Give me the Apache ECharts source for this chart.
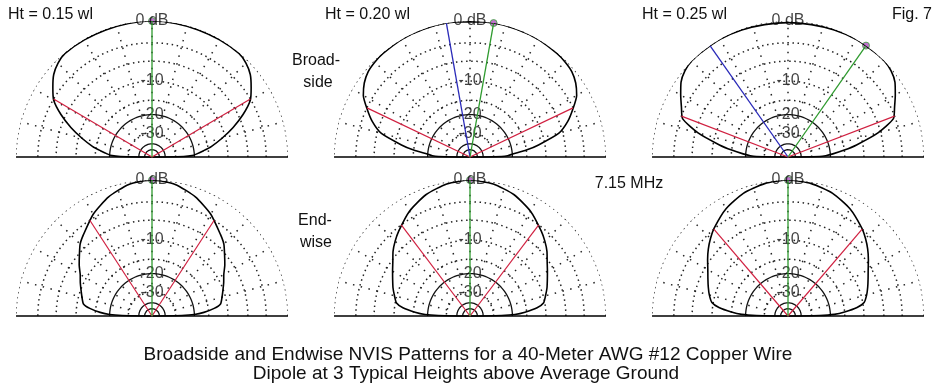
<!DOCTYPE html>
<html><head><meta charset="utf-8">
<script src="https://cdn.jsdelivr.net/npm/echarts@6/dist/echarts.min.js"></script>
<style>html,body{margin:0;padding:0;background:#fff}#c{width:937px;height:389px}</style>
</head><body><div id="c"></div>
<script>
// elevation angles (deg) at which pattern gain (dB) was read
const angles = [0, 1, 2, 4, 7, 10, 15, 20, 25, 30, 35, 40, 45, 50, 60, 70, 80, 90, 100, 110, 120, 130, 135, 140, 145, 150, 155, 160, 165, 170, 173, 176, 178, 179, 180];
// pattern gain in dB relative to max
const broad015 = [-99, -25, -21, -19, -16.5, -14, -10.8, -7.8, -5.2, -3.1, -2.0, -1.0, -0.4, -0.1, -0.1, -0.1, -0.05, 0,
  -0.05, -0.1, -0.1, -0.1, -0.4, -1.0, -2.0, -3.1, -5.2, -7.8, -10.8, -14, -16.5, -19, -21, -25, -99];
const broad020 = [-99, -25, -22, -19.8, -15, -11.5, -6.7, -4.6, -3.1, -1.7, -0.9, -0.4, -0.2, -0.1, 0, 0, 0, -0.1,
  0, 0, 0, -0.1, -0.2, -0.4, -0.9, -1.7, -3.1, -4.6, -6.7, -11.5, -15, -19.8, -22, -25, -99];
const broad025 = [-99, -25, -22, -19, -15, -11.5, -6.5, -3.3, -2.5, -1.6, -0.7, -0.2, 0, 0, 0, -0.1, -0.2, -0.2,
  -0.2, -0.1, 0, 0, 0, -0.2, -0.7, -1.6, -2.5, -3.3, -6.5, -11.5, -15, -19, -22, -25, -99];
const end015 = [-99, -26, -20, -16.5, -13.3, -11.5, -10.8, -10.1, -9.3, -8.5, -7.3, -6.2, -5.0, -4.2, -2.5, -1.2, -0.3, 0,
  -0.3, -1.2, -2.5, -4.2, -5.0, -6.2, -7.3, -8.5, -9.3, -10.1, -10.8, -11.5, -13.3, -16.5, -20, -26, -99];
const end020 = [-99, -25, -19, -15.5, -12, -10.3, -9.5, -8.7, -8.0, -7.2, -6.3, -5.2, -4.3, -3.5, -2.0, -0.9, -0.25, 0,
  -0.25, -0.9, -2.0, -3.5, -4.3, -5.2, -6.3, -7.2, -8.0, -8.7, -9.5, -10.3, -12, -15.5, -19, -25, -99];
const end025 = [-99, -25, -18.5, -15, -11.5, -9.7, -8.8, -8.1, -7.4, -6.6, -5.6, -4.6, -3.7, -2.9, -1.6, -0.7, -0.2, 0,
  -0.2, -0.7, -1.6, -2.9, -3.7, -4.6, -5.6, -6.6, -7.4, -8.1, -8.8, -9.7, -11.5, -15, -18.5, -25, -99];
const patterns = [broad015, broad020, broad025, end015, end020, end025];
const maxAngles = [90, 80, 55, 90, 90, 90];                 // green line (max gain)
const mirrorMaxAngles = [null, 100, 125, null, null, null]; // blue line
const halfPowerAngles = [[30.5, 149.5], [25.5, 154.5], [21, 159], [57, 123], [53, 127], [49.5, 130.5]]; // red lines
// grid rings (dB, ARRL log scale)
const dottedRingsDb = [0, -3, -6, -10, -15, -30];
const solidRingsDb = [-20, -40, -50];
const ringLabelDb = [0, -10, -20, -30];
const ringLabels = ['0 dB', '-10', '-20', '-30'];
const radialStep = 15;
const heightLabels = ['Ht = 0.15 wl', 'Ht = 0.20 wl', 'Ht = 0.25 wl'];

const arrl = db => Math.pow(0.89, -db / 2);
const centers = [[152, 157], [470, 157], [788, 157], [152, 316], [470, 316], [788, 316]];
const R = 136;

const polar = [], angleAxis = [], radiusAxis = [], series = [];
const arc = (r) => { const d = []; for (let a = 0; a <= 180; a += 1) d.push([r, a]); return d; };
centers.forEach((c, i) => {
  polar.push({ center: c, radius: R });
  angleAxis.push({ polarIndex: i, type: 'value', min: 0, max: 360, startAngle: 0, clockwise: false, show: false });
  radiusAxis.push({ polarIndex: i, type: 'value', min: 0, max: 1, show: false });
  const base = { type: 'line', coordinateSystem: 'polar', polarIndex: i, showSymbol: false, silent: true, animation: false };
  dottedRingsDb.forEach(db => series.push(Object.assign({}, base, { data: arc(arrl(db)), lineStyle: { color: '#222', width: 1.5, type: [1.5, 3.6] } })));
  for (let a = radialStep; a < 180; a += radialStep) {
    series.push(Object.assign({}, base, { data: [[arrl(-30), a], [1, a]], lineStyle: { color: '#222', width: 1.5, type: [1.5, 6.5] } }));
  }
  solidRingsDb.forEach(db => series.push(Object.assign({}, base, { data: arc(arrl(db)), lineStyle: { color: '#111', width: 1.3 } })));
  series.push(Object.assign({}, base, { data: [[1.01, 0], [0, 0], [1.01, 180]], lineStyle: { color: '#000', width: 1.5 } }));
  // pattern
  series.push(Object.assign({}, base, { data: angles.map((a, k) => [arrl(patterns[i][k]), a]), smooth: 0.2, lineStyle: { color: '#000', width: 1.6 } }));
  halfPowerAngles[i].forEach(a => series.push(Object.assign({}, base, { data: [[0, a], [arrl(-3), a]], lineStyle: { color: '#d02040', width: 1.2 } })));
  if (mirrorMaxAngles[i] !== null) series.push(Object.assign({}, base, { data: [[0, mirrorMaxAngles[i]], [1, mirrorMaxAngles[i]]], lineStyle: { color: '#2828b8', width: 1.3 } }));
  // ring labels
  series.push({ type: 'scatter', coordinateSystem: 'polar', polarIndex: i, silent: true, animation: false, symbolSize: 0,
    data: ringLabelDb.map((db, k) => ({ value: [arrl(db), 90], label: { show: true, formatter: ringLabels[k] } })),
    label: { position: 'inside', color: '#111', fontSize: 16, fontFamily: 'Liberation Sans, Arial' } });
  series.push(Object.assign({}, base, { data: [[0, maxAngles[i]], [1, maxAngles[i]]], lineStyle: { color: '#2e9a2e', width: 1.3 } }));
  series.push({ type: 'scatter', coordinateSystem: 'polar', polarIndex: i, silent: true, animation: false, symbol: 'circle', symbolSize: 7,
    itemStyle: { color: '#b050c0', borderColor: '#3aa83a', borderWidth: 1 }, data: [[1, maxAngles[i]]] });
});

const txt = (text, x, y, align, size) => ({ type: 'text', x, y, style: { text, font: (size || 16) + 'px "Liberation Sans", Arial, sans-serif', fill: '#111', textAlign: align || 'left', textVerticalAlign: 'middle' } });
const graphic = [
  txt(heightLabels[0], 8, 15), txt(heightLabels[1], 325, 15), txt(heightLabels[2], 642, 15),
  txt('Fig. 7', 932, 15, 'right'),
  txt('Broad-', 316, 61, 'center'), txt('side', 318, 83, 'center'),
  txt('End-', 315, 221, 'center'), txt('wise', 316, 243, 'center'),
  txt('7.15 MHz', 629, 184, 'center'),
  txt('Broadside and Endwise NVIS Patterns for a 40-Meter AWG #12 Copper Wire', 468, 355, 'center', 19),
  txt('Dipole at 3 Typical Heights above Average Ground', 466, 374, 'center', 19)
];

const chart = echarts.init(document.getElementById('c'), null, { renderer: 'canvas' });
chart.setOption({ animation: false, backgroundColor: '#fff', polar, angleAxis, radiusAxis, series, graphic });
</script></body></html>
